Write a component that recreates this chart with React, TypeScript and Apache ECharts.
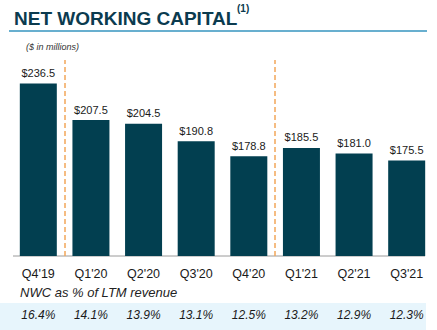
import React, { useEffect, useRef } from "react";
import * as echarts from "echarts";

const categories = ["Q4'19", "Q1'20", "Q2'20", "Q3'20", "Q4'20", "Q1'21", "Q2'21", "Q3'21"];
const nwcValues = [236.5, 207.5, 204.5, 190.8, 178.8, 185.5, 181.0, 175.5];
const pctLabels = ["16.4%", "14.1%", "13.9%", "13.1%", "12.5%", "13.2%", "12.9%", "12.3%"];
const dividerPositions = [1, 5];

const FONT = "'Liberation Sans', Arial, Helvetica, sans-serif";

export default function App() {
  const ref = useRef<HTMLDivElement>(null);
  useEffect(() => {
    document.body.style.margin = "0";
    const chart = echarts.init(ref.current!, null, { renderer: "svg" });
    chart.setOption({
      animation: false,
      backgroundColor: "#ffffff",
      grid: { left: 12, right: 4, top: 60, bottom: 74, containLabel: false },
      graphic: [
        { type: "rect", z: -10, shape: { x: 0, y: 303, width: 426, height: 27 }, style: { fill: "#e7f5fc" } },
        {
          type: "text", x: 14, y: 9,
          style: { text: "NET WORKING CAPITAL", font: `bold 19px ${FONT}`, fill: "#0b3b4f" },
        },
        {
          type: "text", x: 237, y: 3,
          style: { text: "(1)", font: `bold 10px ${FONT}`, fill: "#0b3b4f" },
        },
        {
          type: "line", shape: { x1: 9, y1: 31, x2: 427, y2: 31 },
          style: { stroke: "#68afcf", lineWidth: 2 },
        },
        {
          type: "text", x: 26, y: 42,
          style: { text: "($ in millions)", font: `italic 9px ${FONT}`, fill: "#333333" },
        },
        {
          type: "text", x: 20, y: 286,
          style: { text: "NWC as % of LTM revenue", font: `italic 13px ${FONT}`, fill: "#222222" },
        },
        {
          type: "line", shape: { x1: 13, y1: 256, x2: 425, y2: 256 },
          style: { stroke: "#9a9a9a", lineWidth: 1 },
        },
      ],
      xAxis: [
        {
          type: "category",
          data: categories,
          axisLine: { show: false },
          axisTick: { show: false },
          axisLabel: { margin: 11, fontSize: 12.5, color: "#1a1a1a", fontFamily: FONT },
        },
        {
          type: "category",
          data: pctLabels,
          position: "bottom",
          offset: 45,
          axisLine: { show: false },
          axisTick: { show: false },
          axisLabel: { margin: 8, fontSize: 12, fontStyle: "italic", color: "#1a1a1a", fontFamily: FONT },
        },
        { type: "value", min: 0, max: categories.length, show: false },
      ],
      yAxis: { type: "value", min: 100, max: 255, show: false },
      series: [
        {
          type: "bar",
          data: nwcValues,
          barWidth: 37,
          itemStyle: { color: "#023f50" },
          label: {
            show: true, position: "top", distance: 5,
            formatter: (p: any) => "$" + Number(p.value).toFixed(1),
            fontSize: 11, color: "#1a1a1a", fontFamily: FONT,
          },
        },
        {
          type: "scatter",
          xAxisIndex: 2,
          data: [],
          markLine: {
            symbol: ["none", "none"],
            silent: true,
            label: { show: false },
            lineStyle: { color: "#f2a65a", type: [5, 3], width: 1.5 },
            data: dividerPositions.map((v) => ({ xAxis: v })),
          },
        },
      ],
    });
    return () => chart.dispose();
  }, []);
  return <div ref={ref} style={{ width: 437, height: 330 }} />;
}
